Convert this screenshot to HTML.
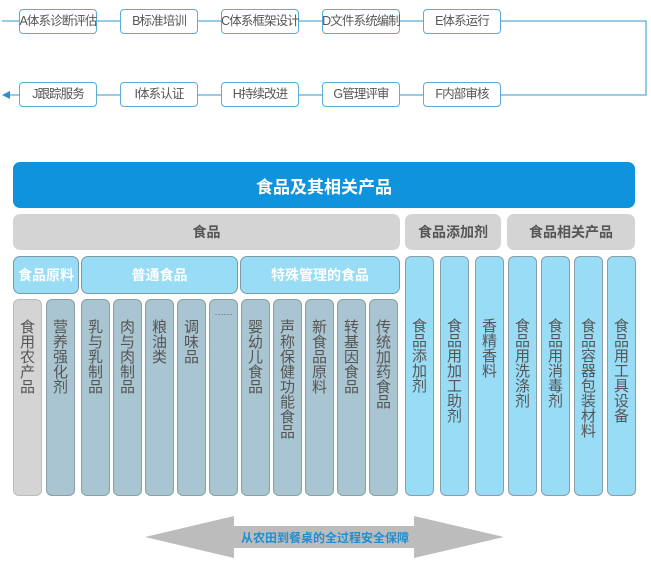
<!DOCTYPE html>
<html><head><meta charset="utf-8"><style>
body{margin:0;width:651px;height:562px;background:#fff;position:relative;overflow:hidden;font-family:"Liberation Sans","Noto Sans CJK SC",sans-serif}
.a{position:absolute;box-sizing:border-box}
.tb{border:1px solid #5aaed6;border-radius:4px;background:#fff;color:#555;font-size:12.5px;letter-spacing:-0.9px;text-align:center;line-height:22px;height:25px;width:78px;white-space:nowrap;display:flex;justify-content:center}
.h{display:flex;align-items:center;justify-content:center;font-weight:bold;border-radius:7px}
.g{background:#d4d4d4;color:#555;font-size:14px}
.lb{background:#99dcf5;border:1px solid #7a9aa8;color:#fff;font-size:14px}
.c{border:1px solid #8a9ea8;border-radius:6px;top:299px;height:197px;width:29px;color:#555;font-size:15px;line-height:15px;text-align:center;padding-top:20px;word-break:break-all}
.cg{background:#a9c5d1}
.cb{background:#99dcf5;top:256px;height:240px;padding-top:62px}
</style></head><body>
<svg class="a" style="left:0;top:0" width="651" height="120">
<polyline points="2,21 646,21 646,95 10,95" fill="none" stroke="#5aaed6" stroke-width="1.3"/>
<polygon points="2,95 10,91 10,99" fill="#2a8fd0"/>
</svg>
<div class="a tb" style="left:19px;top:9px">A体系诊断评估</div>
<div class="a tb" style="left:120px;top:9px">B标准培训</div>
<div class="a tb" style="left:221px;top:9px">C体系框架设计</div>
<div class="a tb" style="left:322px;top:9px">D文件系统编制</div>
<div class="a tb" style="left:423px;top:9px">E体系运行</div>
<div class="a tb" style="left:423px;top:82px">F内部审核</div>
<div class="a tb" style="left:322px;top:82px">G管理评审</div>
<div class="a tb" style="left:221px;top:82px">H持续改进</div>
<div class="a tb" style="left:120px;top:82px">I体系认证</div>
<div class="a tb" style="left:19px;top:82px">J跟踪服务</div>

<div class="a h" style="left:13px;top:162px;width:622px;height:46px;background:#0e93dc;color:#fff;font-size:17px">食品及其相关产品</div>
<div class="a h g" style="left:13px;top:214px;width:387px;height:36px">食品</div>
<div class="a h g" style="left:405px;top:214px;width:96px;height:36px">食品添加剂</div>
<div class="a h g" style="left:507px;top:214px;width:128px;height:36px">食品相关产品</div>
<div class="a h lb" style="left:13px;top:256px;width:66px;height:38px">食品原料</div>
<div class="a h lb" style="left:81px;top:256px;width:157px;height:38px">普通食品</div>
<div class="a h lb" style="left:240px;top:256px;width:160px;height:38px">特殊管理的食品</div>

<div class="a c" style="left:13px;background:#d4d4d4;border-color:#bbb">食用农产品</div>
<div class="a c cg" style="left:46px">营养强化剂</div>
<div class="a c cg" style="left:81px">乳与乳制品</div>
<div class="a c cg" style="left:113px">肉与肉制品</div>
<div class="a c cg" style="left:145px">粮油类</div>
<div class="a c cg" style="left:177px">调味品</div>
<div class="a c cg" style="left:209px;padding-top:10px;font-size:9px;line-height:9px">······</div>
<div class="a c cg" style="left:241px">婴幼儿食品</div>
<div class="a c cg" style="left:273px">声称保健功能食品</div>
<div class="a c cg" style="left:305px">新食品原料</div>
<div class="a c cg" style="left:337px">转基因食品</div>
<div class="a c cg" style="left:369px">传统加药食品</div>
<div class="a c cb" style="left:405px">食品添加剂</div>
<div class="a c cb" style="left:440px">食品用加工助剂</div>
<div class="a c cb" style="left:475px">香精香料</div>
<div class="a c cb" style="left:508px">食品用洗涤剂</div>
<div class="a c cb" style="left:541px">食品用消毒剂</div>
<div class="a c cb" style="left:574px">食品容器包装材料</div>
<div class="a c cb" style="left:607px">食品用工具设备</div>

<svg class="a" style="left:0;top:0" width="651" height="562">
<polygon points="145,537 234,516 234,526 414,526 414,516 504,537 414,558 414,548 234,548 234,558" fill="#bcbcbc"/>
<text x="325" y="542" text-anchor="middle" font-size="12" font-weight="bold" fill="#1e8fd0" font-family="Liberation Sans,Noto Sans CJK SC,sans-serif">从农田到餐桌的全过程安全保障</text>
</svg>
</body></html>
